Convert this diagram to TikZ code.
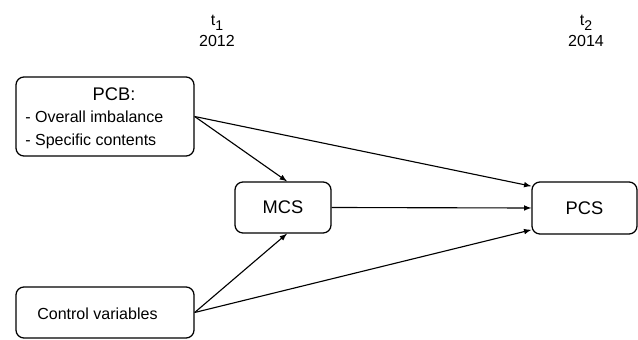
\documentclass[tikz,border=0pt]{standalone}
\usepackage{fontspec}
\setmainfont{Liberation Sans}
\usepackage{tikz}

\newcommand{\tsub}[1]{t\raisebox{-0.55ex}{\fontsize{10}{12}\selectfont #1}}

\begin{document}
\begin{tikzpicture}[x=0.025cm, y=-0.025cm,
        box/.style={draw, line width=0.9pt, rounded corners=0.2cm},
        big/.style={font=\fontsize{13}{15}\selectfont},
        small/.style={font=\fontsize{11.4}{14}\selectfont},
        arr/.style={-latex, line width=0.8pt}]
        \useasboundingbox (0,0) rectangle (638,340);

        % Time points
        \node[small, align=center] (t1) at (217,31) {\tsub{1}\\[1pt]2012};
        \node[small, align=center] (t2) at (586,31) {\tsub{2}\\[1pt]2014};

        % Boxes
        \node[box, minimum width=4.45cm, minimum height=1.975cm] (pcb) at (105,116.5) {};
        \node[big, anchor=base] (pcbtitle) at (114,101) {PCB:};
        \node[small, anchor=base west, inner sep=0pt] (pcbone) at (25,123) {- Overall imbalance};
        \node[small, anchor=base west, inner sep=0pt] (pcbtwo) at (25,146) {- Specific contents};

        \node[box, minimum width=4.45cm, minimum height=1.275cm] (ctrl) at (105,312.5) {};
        \node[small, anchor=base west, inner sep=0pt] (ctrltext) at (37,320) {Control variables};

        \node[box, big, minimum width=2.4cm, minimum height=1.275cm] (mcs) at (283,207.5) {MCS};
        \node[box, big, minimum width=2.625cm, minimum height=1.3cm] (pcs) at (584.5,208) {PCS};

        % Paths
        \draw[arr] (pcb.east) -- ([xshift=0.1cm]mcs.north);
        \draw[arr] (pcb.east) -- ([yshift=-0.12cm]pcs.north west);
        \draw[arr] (mcs.east) -- (pcs.west);
        \draw[arr] (ctrl.east) -- ([xshift=0.1cm]mcs.south);
        \draw[arr] (ctrl.east) -- ([yshift=0.12cm]pcs.south west);
    \end{tikzpicture}
\end{document}
